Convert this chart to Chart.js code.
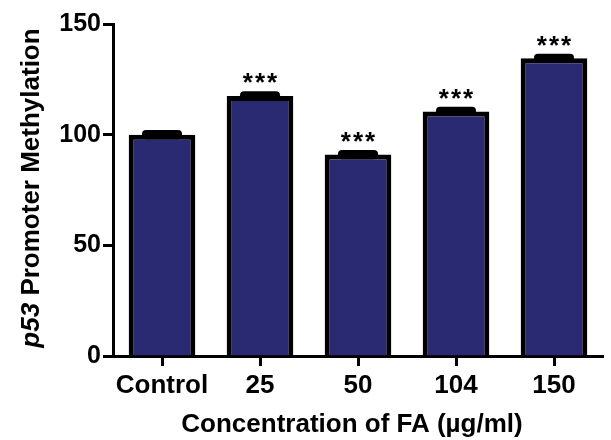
<!DOCTYPE html>
<html><head><meta charset="utf-8">
<script src="https://cdn.jsdelivr.net/npm/chart.js@4"></script>
<style>html,body{margin:0;padding:0;background:#fff}#wrap{width:611px;height:440px}</style>
</head><body><div id="wrap"><canvas id="c" width="611" height="440"></canvas></div>
<script>
const categories = ['Control', '25', '50', '104', '150'];
const methylation = [100, 117.5, 91, 110.5, 134.5];
const errorValues = [1.2, 1.2, 1.2, 1.2, 1.2];
const significance = ['', '***', '***', '***', '***'];
const yTickValues = [0, 50, 100, 150];
const yTitleItalic = 'p53';
const yTitleRest = ' Promoter Methylation';
const xTitle = 'Concentration of FA (\u00b5g/ml)';

const FONT = '"Liberation Sans", Arial, sans-serif';

function roundRect(ctx, x, y, w, h, r) {
  ctx.beginPath();
  ctx.moveTo(x + r, y);
  ctx.lineTo(x + w - r, y);
  ctx.arcTo(x + w, y, x + w, y + r, r);
  ctx.lineTo(x + w, y + h - r);
  ctx.arcTo(x + w, y + h, x + w - r, y + h, r);
  ctx.lineTo(x + r, y + h);
  ctx.arcTo(x, y + h, x, y + h - r, r);
  ctx.lineTo(x, y + r);
  ctx.arcTo(x, y, x + r, y, r);
  ctx.closePath();
}

const annotate = {
  id: 'annotate',
  afterDatasetsDraw(chart) {
    const ctx = chart.ctx;
    const ys = chart.scales.y;
    const meta = chart.getDatasetMeta(0);
    ctx.save();
    meta.data.forEach((bar, i) => {
      const x = bar.x;
      const top = ys.getPixelForValue(methylation[i] + errorValues[i]);
      const bot = ys.getPixelForValue(methylation[i] - errorValues[i]);
      ctx.fillStyle = '#000';
      roundRect(ctx, x - 20, top - 2, 40, (bot - top) + 4, 4);
      ctx.fill();
      if (significance[i]) {
        ctx.fillStyle = '#000';
        ctx.font = 'bold 26px ' + FONT;
        ctx.letterSpacing = '2px';
        ctx.textAlign = 'center';
        ctx.textBaseline = 'alphabetic';
        ctx.fillText(significance[i], x + 1, top - 2);
        ctx.letterSpacing = '0px';
      }
    });
    ctx.restore();
  },
  afterDraw(chart) {
    const ctx = chart.ctx;
    ctx.save();
    ctx.fillStyle = '#000';
    ctx.translate(32, 188);
    ctx.rotate(-Math.PI / 2);
    ctx.textBaseline = 'middle';
    const fi = 'italic bold 26px ' + FONT;
    const fb = 'bold 26px ' + FONT;
    ctx.font = fi; const w1 = ctx.measureText(yTitleItalic).width;
    ctx.font = fb; const w2 = ctx.measureText(yTitleRest).width;
    const sx = -(w1 + w2) / 2;
    ctx.textAlign = 'left';
    ctx.font = fi; ctx.fillText(yTitleItalic, sx, 0);
    ctx.font = fb; ctx.fillText(yTitleRest, sx + w1, 0);
    ctx.restore();
    ctx.save();
    ctx.fillStyle = '#000';
    ctx.font = 'bold 26px ' + FONT;
    ctx.textAlign = 'center';
    ctx.textBaseline = 'middle';
    ctx.fillText(xTitle, 352, 425);
    ctx.restore();
  }
};

new Chart(document.getElementById('c'), {
  type: 'bar',
  data: {
    labels: categories,
    datasets: [{
      data: methylation,
      backgroundColor: '#2a2a72',
      borderColor: '#000',
      borderWidth: 5,
      barPercentage: 0.68,
      categoryPercentage: 1
    }]
  },
  options: {
    responsive: false,
    animation: false,
    devicePixelRatio: 1,
    layout: { padding: { top: 24, right: 8, left: 0, bottom: 0 } },
    plugins: { legend: { display: false }, tooltip: { enabled: false } },
    scales: {
      x: {
        grid: { display: true, drawOnChartArea: false, drawTicks: true, tickLength: 10, tickWidth: 3, tickColor: '#000', offset: false },
        border: { display: true, width: 3, color: '#000' },
        ticks: { color: '#000', font: { family: FONT, size: 26, weight: 'bold' }, padding: 4, maxRotation: 0 },
        afterFit(s) { s.height = 84; }
      },
      y: {
        min: 0, max: 150,
        afterBuildTicks(s) { s.ticks = yTickValues.map(v => ({ value: v })); },
        grid: { display: true, drawOnChartArea: false, drawTicks: true, tickLength: 10, tickWidth: 3, tickColor: '#000' },
        border: { display: true, width: 3, color: '#000' },
        ticks: { color: '#000', font: { family: FONT, size: 25, weight: 'bold' }, padding: 2 },
        afterFit(s) { s.width = 113; }
      }
    }
  },
  plugins: [annotate]
});
</script>
</body></html>
